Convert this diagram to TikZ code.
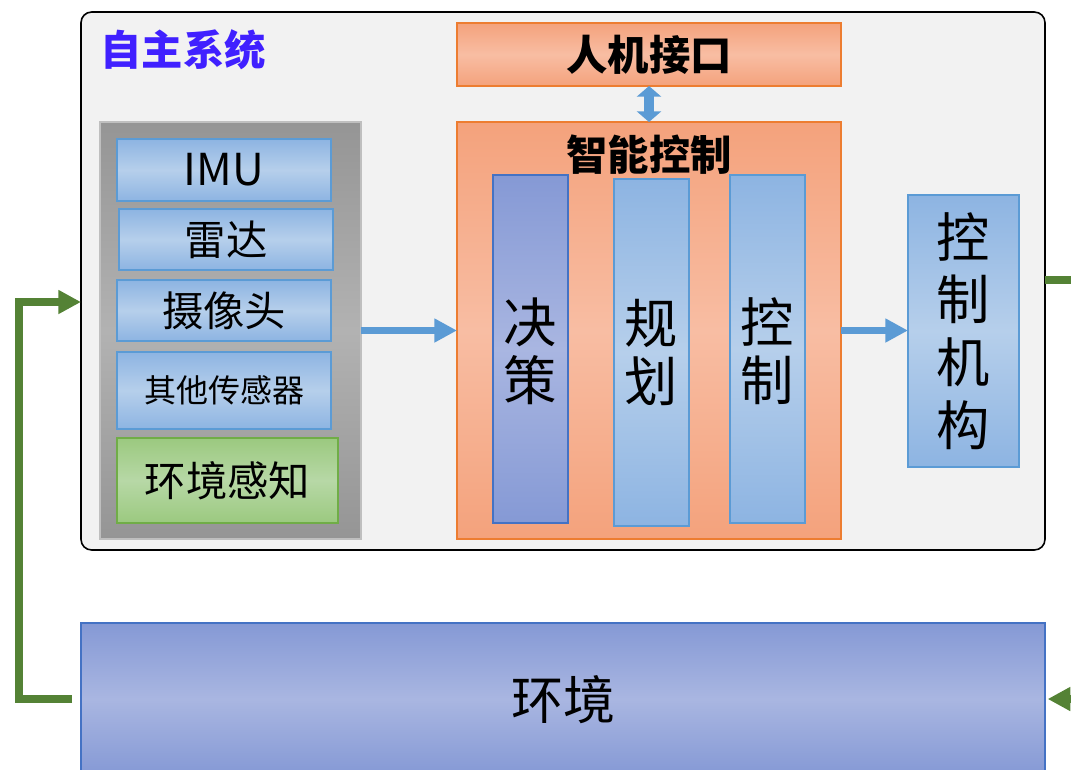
\documentclass[tikz,border=0pt]{standalone}
\usepackage{fontspec}
\setmainfont{Noto Sans CJK SC}
\usetikzlibrary{arrows.meta,calc}
\definecolor{outerfill}{HTML}{F2F2F2}
\definecolor{titleblue}{HTML}{4020FF}
\definecolor{grayE}{HTML}{959595}
\definecolor{grayC}{HTML}{B2B2B2}
\definecolor{graybd}{HTML}{BFBFBF}
\definecolor{blueE}{HTML}{8DB4E2}
\definecolor{blueC}{HTML}{B6CFEB}
\definecolor{bluebd}{HTML}{5B9BD5}
\definecolor{orangeE}{HTML}{F4A27C}
\definecolor{orangeC}{HTML}{F8BDA3}
\definecolor{orangebd}{HTML}{ED7D31}
\definecolor{purpE}{HTML}{8599D5}
\definecolor{purpC}{HTML}{A9B6E1}
\definecolor{purpbd}{HTML}{4472C4}
\definecolor{greenE}{HTML}{9BC97F}
\definecolor{greenC}{HTML}{B7D8A6}
\definecolor{greenbd}{HTML}{70AD47}
\definecolor{arrowblue}{HTML}{5B9BD5}
\definecolor{arrowgreen}{HTML}{548235}
\begin{document}
\begin{tikzpicture}[x=0.75pt,y=-0.75pt,
  every node/.style={inner sep=0pt, outer sep=0pt},
  bluebox/.style={draw=bluebd, line width=0.9pt, top color=blueE, bottom color=blueE, middle color=blueC},
  orangebox/.style={draw=orangebd, line width=0.9pt, top color=orangeE, bottom color=orangeE, middle color=orangeC},
  purpbox/.style={draw=purpbd, line width=0.9pt, top color=purpE, bottom color=purpE, middle color=purpC},
  greenbox/.style={draw=greenbd, line width=0.9pt, top color=greenE, bottom color=greenE, middle color=greenC},
  graypanel/.style={draw=graybd, line width=0.9pt, top color=grayE, bottom color=grayE, middle color=grayC},
  bluearrow/.style={draw=arrowblue, line width=5pt, -{Triangle[length=17pt,width=17pt]}},
  dblarrow/.style={draw=arrowblue, line width=7pt, {Triangle[length=8pt,width=18pt]}-{Triangle[length=8pt,width=18pt]}},
  greenarrow/.style={draw=arrowgreen, line width=5.5pt, line join=miter, -{Triangle[length=17pt,width=17pt]}},
  greenline/.style={draw=arrowgreen, line width=5.5pt, line join=miter},
  lbl/.style={font=\fontsize{31}{36}\selectfont},
  blbl/.style={font=\bfseries\fontsize{31}{36}\selectfont},
  vlbl/.style={align=center, font=\fontsize{40}{44}\selectfont},
]
\useasboundingbox (0,0) rectangle (1071,769);
\clip (0,0) rectangle (1071,769);

% outer system box
\node[draw=black, line width=1.2pt, fill=outerfill, rounded corners=8pt,
      minimum width=723pt, minimum height=403.5pt] (sys) at (563,281) {};
\node[text=titleblue, blbl] (title) at (183,50) {自主系统};

% sensor panel
\node[graypanel, minimum width=195.75pt, minimum height=312.75pt] (panel) at (230.5,330.5) {};
\node[bluebox, minimum width=160.5pt, minimum height=46.5pt, font=\fontsize{33}{38}\selectfont] (imu) at (224,170) {IMU};
\node[bluebox, lbl, minimum width=160.5pt, minimum height=45.75pt] (radar) at (226,239.5) {雷达};
\node[bluebox, lbl, minimum width=160.5pt, minimum height=45.75pt] (cam) at (224,310.5) {摄像头};
\node[bluebox, minimum width=160.5pt, minimum height=57.75pt, font=\fontsize{24}{28}\selectfont] (other) at (224,390.5) {其他传感器};
\node[greenbox, lbl, minimum width=165.75pt, minimum height=63.75pt] (perc) at (227.5,480.5) {环境感知};

% HMI and intelligent control
\node[orangebox, blbl, minimum width=288pt, minimum height=47.25pt] (hmi) at (649,54.5) {人机接口};
\node[orangebox, minimum width=288pt, minimum height=312.75pt] (ic) at (649,330.5) {};
\node[blbl] (ictitle) at (649,155) {智能控制};
\node[purpbox, minimum width=56.25pt, minimum height=261pt] (dec) at (530.5,349) {};
\node[vlbl, font=\fontsize{40}{43.5}\selectfont] (dect) at (530.5,351) {决\\策};
\node[bluebox, minimum width=56.25pt, minimum height=260.25pt] (plan) at (651.5,352.5) {};
\node[vlbl, font=\fontsize{40}{43.5}\selectfont] (plant) at (651.5,352) {规\\划};
\node[bluebox, minimum width=56.25pt, minimum height=261pt] (ctl) at (767.5,349) {};
\node[vlbl, font=\fontsize{40}{43.5}\selectfont] (ctlt) at (767.5,351) {控\\制};

% actuator
\node[bluebox, minimum width=83.25pt, minimum height=204pt] (act) at (963.5,331) {};
\node[vlbl, font=\fontsize{40}{47}\selectfont] (actt) at (963.5,331) {控\\制\\机\\构};

% environment
\node[purpbox, minimum width=723pt, minimum height=114pt] (env) at (563,699) {};
\node[font=\fontsize{39}{44}\selectfont] (envt) at (563,700) {环境};

% arrows
\draw[bluearrow] (panel.east) -- (ic.west);
\draw[bluearrow] (ic.east) -- (act.west |- ic.east);
\draw[dblarrow] (hmi.south) -- (ic.north);

\coordinate (gl) at (72,699);
\coordinate (lt) at (19,302);
\draw[greenarrow] (gl) -| (lt) -- (lt -| sys.west);

\coordinate (rt) at (1110,280);
\draw[greenarrow, shorten >=2pt] (sys.east |- rt) -- (rt) |- (env.east);
\end{tikzpicture}
\end{document}
